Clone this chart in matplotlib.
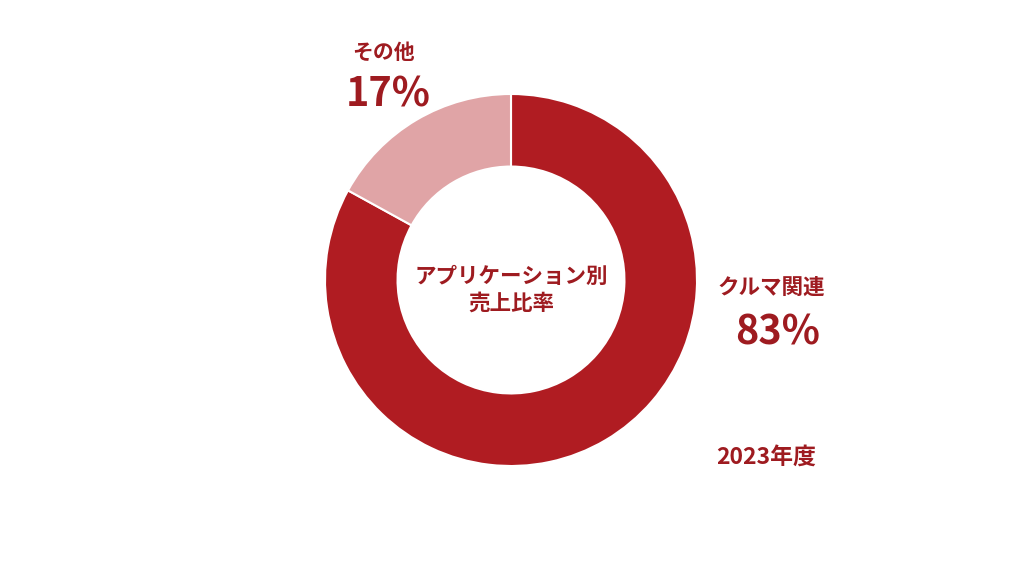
import matplotlib
matplotlib.use("Agg")
import matplotlib.pyplot as plt

plt.rcParams["font.family"] = ["Noto Sans CJK JP", "DejaVu Sans"]

# データ
labels = ["クルマ関連", "その他"]
shares = [83, 17]
colors = ["#B01C22", "#E0A4A6"]
text_color = "#9E1B20"
center_title = "アプリケーション別\n売上比率"
year_label = "2023年度"

W, H = 1024, 576
fig = plt.figure(figsize=(W / 100, H / 100), dpi=100)
ax = fig.add_axes([0, 0, 1, 1])
ax.set_xlim(0, W)
ax.set_ylim(0, H)
ax.set_aspect("equal")
ax.axis("off")

cx, cy, rad = 511, H - 280, 186
ax.pie(shares, colors=colors, startangle=90, counterclock=False,
       center=(cx, cy), radius=rad,
       wedgeprops=dict(width=rad * 0.39, edgecolor="white", linewidth=1.5))
ax.set_xlim(0, W)
ax.set_ylim(0, H)

# ラベル
ax.text(384, H - 52, labels[1], ha="center", va="center", fontsize=15,
        fontweight="bold", color=text_color)
ax.text(388, H - 95, f"{shares[1]}%", ha="center", va="center", fontsize=28.5,
        fontweight="bold", color=text_color)
ax.text(771, H - 287, labels[0], ha="center", va="center", fontsize=15.5,
        fontweight="bold", color=text_color)
ax.text(778, H - 333, f"{shares[0]}%", ha="center", va="center", fontsize=28.5,
        fontweight="bold", color=text_color)
ax.text(511, H - 290, center_title, ha="center", va="center", fontsize=15.5,
        fontweight="bold", color=text_color, linespacing=1.3)
ax.text(766, H - 457, year_label, ha="center", va="center", fontsize=16.5,
        fontweight="bold", color=text_color)

fig.savefig("out.png", dpi=100, facecolor="white")
